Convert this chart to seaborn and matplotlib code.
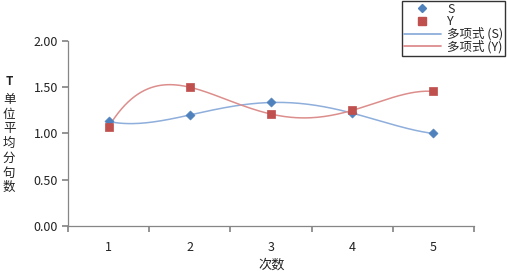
import numpy as np
import pandas as pd
import seaborn as sns
import matplotlib.pyplot as plt
from matplotlib.lines import Line2D

# --- dados ---
categorias = [1, 2, 3, 4, 5]
valores_s = [1.13, 1.20, 1.335, 1.22, 1.00]
valores_y = [1.07, 1.50, 1.21, 1.25, 1.455]
ticks_y = [0.0, 0.5, 1.0, 1.5, 2.0]

cor_s = '#4F81BD'
cor_y = '#C0504D'
cor_tend_s = '#8EAEDB'
cor_tend_y = '#DC8E8C'
cor_eixo = '#868686'

sns.set_theme(style='white')
plt.rcParams['font.family'] = ['Noto Sans CJK SC', 'DejaVu Sans']

df = pd.DataFrame({'x': categorias, 'S': valores_s, 'Y': valores_y})

# linha de tendência polinomial (grau 4, como no Excel)
xs = np.linspace(1, 5, 200)
tend = pd.DataFrame({
    'x': xs,
    'S': np.polyval(np.polyfit(df['x'], df['S'], 4), xs),
    'Y': np.polyval(np.polyfit(df['x'], df['Y'], 4), xs),
})

fig = plt.figure(figsize=(5.07, 2.73), dpi=100)
ax = fig.add_axes([0.134, 0.172, 0.801, 0.678])

sns.lineplot(data=tend, x='x', y='S', ax=ax, color=cor_tend_s, linewidth=1.1)
sns.lineplot(data=tend, x='x', y='Y', ax=ax, color=cor_tend_y, linewidth=1.1)
sns.scatterplot(data=df, x='x', y='S', ax=ax, marker='D', s=22,
                color=cor_s, edgecolor=cor_s, zorder=3)
sns.scatterplot(data=df, x='x', y='Y', ax=ax, marker='s', s=40,
                color=cor_y, edgecolor=cor_y, zorder=3)

ax.set_xlim(0.5, 5.5)
ax.set_ylim(0, 2.0)
ax.set_yticks(ticks_y)
ax.set_yticklabels([f'{v:.2f}' for v in ticks_y], fontsize=9, color='#222222')
ax.set_xticks(np.arange(0.5, 5.6, 1.0))
ax.set_xticklabels([])
ax.set_xticks(categorias, minor=True)
ax.set_xticklabels([str(c) for c in categorias], minor=True, fontsize=9, color='#222222')
ax.tick_params(axis='x', which='major', direction='out', length=4, color=cor_eixo, bottom=True)
ax.tick_params(axis='x', which='minor', length=0, pad=11)
ax.tick_params(axis='y', direction='out', length=4, color=cor_eixo, left=True, pad=3)

for lado in ['top', 'right']:
    ax.spines[lado].set_visible(False)
for lado in ['left', 'bottom']:
    ax.spines[lado].set_color(cor_eixo)
    ax.spines[lado].set_linewidth(0.9)

ax.set_xlabel('')
ax.set_ylabel('')
fig.text(0.535, 0.028, '次数', ha='center', va='center', fontsize=9.5, color='#222222')
fig.text(0.018, 0.703, 'T', ha='center', va='center', fontsize=8.5,
         fontweight='bold', color='#222222')
fig.text(0.018, 0.474, '\n'.join('单位平均分句数'), ha='center', va='center',
         fontsize=9, linespacing=1.17, color='#222222')

handles = [
    Line2D([], [], marker='D', color=cor_s, linestyle='none', markersize=4.5),
    Line2D([], [], marker='s', color=cor_y, linestyle='none', markersize=6),
    Line2D([], [], color=cor_tend_s, linewidth=1.3),
    Line2D([], [], color=cor_tend_y, linewidth=1.3),
]
rotulos = ['S', 'Y', '多项式 (S)', '多项式 (Y)']
leg = fig.legend(handles, rotulos, loc='upper right', bbox_to_anchor=(0.997, 0.997),
                 fontsize=9, frameon=True, fancybox=False, borderpad=0.15,
                 labelspacing=-0.05, handlelength=3.0, handletextpad=0.5,
                 borderaxespad=0)
leg.get_frame().set_edgecolor('black')
leg.get_frame().set_linewidth(1.0)

fig.savefig('out.png', dpi=100)
